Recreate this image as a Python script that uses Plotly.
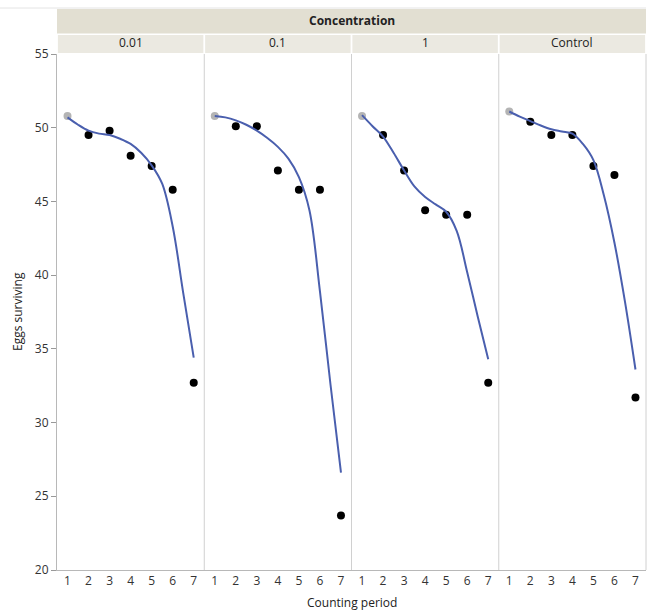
import plotly.graph_objects as go
from plotly.subplots import make_subplots

periods = [1, 2, 3, 4, 5, 6, 7]
concentrations = ["0.01", "0.1", "1", "Control"]

# observed eggs surviving per counting period
eggs_001 = [50.8, 49.5, 49.8, 48.1, 47.4, 45.8, 32.7]
eggs_01 = [50.8, 50.1, 50.1, 47.1, 45.8, 45.8, 23.7]
eggs_1 = [50.8, 49.5, 47.1, 44.4, 44.1, 44.1, 32.7]
eggs_ctrl = [51.1, 50.4, 49.5, 49.5, 47.4, 46.8, 31.7]

# smoothing-curve values at every half period
fit_x = [1, 1.5, 2, 2.5, 3, 3.5, 4, 4.5, 5, 5.5, 6, 6.5, 7]
fit_001 = [50.7, 50.2, 49.8, 49.6, 49.5, 49.25, 48.9, 48.3, 47.45, 46.2, 43.3, 38.8, 34.4]
fit_01 = [50.8, 50.7, 50.5, 50.2, 49.8, 49.3, 48.7, 47.9, 46.65, 44.4, 38.9, 32.6, 26.6]
fit_1 = [50.85, 50.1, 49.4, 48.3, 47.1, 46.0, 45.3, 44.8, 44.3, 43.0, 40.2, 37.2, 34.3]
fit_ctrl = [51.1, 50.75, 50.45, 50.15, 49.9, 49.75, 49.6, 48.9, 47.8, 45.4, 42.2, 38.2, 33.6]

observed = [eggs_001, eggs_01, eggs_1, eggs_ctrl]
fits = [fit_001, fit_01, fit_1, fit_ctrl]

y_ticks = [20, 25, 30, 35, 40, 45, 50, 55]

W, H = 647, 613
L, R, T, B = 57, 1, 54, 43
plot_h = H - T - B
plot_w = W - L - R


def py(pix):
    return (H - B - pix) / plot_h


def px(pix):
    return (pix - L) / plot_w


fig = make_subplots(rows=1, cols=4, shared_yaxes=True, horizontal_spacing=0)

font_fam = "Open Sans, Noto Sans, sans-serif"

for i, (obs, fit) in enumerate(zip(observed, fits)):
    col = i + 1
    fig.add_trace(go.Scatter(
        x=periods, y=obs, mode="markers",
        marker=dict(size=8, color=["#b4b4b4"] + ["#000000"] * 6, line=dict(width=0)),
        showlegend=False, hoverinfo="x+y"), row=1, col=col)
    fig.add_trace(go.Scatter(
        x=fit_x, y=fit, mode="lines",
        line=dict(color="#4a5fae", width=2, shape="spline", smoothing=1.0),
        showlegend=False, hoverinfo="skip"), row=1, col=col)
    fig.update_xaxes(
        range=[0.5, 7.5], tickvals=periods, ticktext=[str(p) for p in periods],
        showgrid=False, zeroline=False, showline=True, linecolor="#b8b8b8", linewidth=1,
        ticks="", tickfont=dict(size=12, color="#333333", family=font_fam),
        fixedrange=True, row=1, col=col)

fig.update_yaxes(
    range=[20, 55], tickvals=y_ticks, showgrid=False, zeroline=False,
    showline=True, linecolor="#b8b8b8", linewidth=1, ticks="outside", ticklen=5,
    tickcolor="#999999", tickfont=dict(size=12, color="#333333", family=font_fam),
    row=1, col=1)
for c in (2, 3, 4):
    fig.update_yaxes(showline=False, row=1, col=c)

shapes = []
# panel dividers and right border
for k in range(1, 5):
    xk = k / 4
    shapes.append(dict(type="line", xref="paper", yref="paper", x0=xk, x1=xk, y0=0, y1=1,
                       line=dict(color="#d0d0d0", width=1)))
# header strips
shapes.append(dict(type="rect", xref="paper", yref="paper", x0=0, x1=1,
                   y0=py(33.5), y1=py(9), fillcolor="#e2dfd2", line=dict(width=0), layer="below"))
for k in range(4):
    shapes.append(dict(type="rect", xref="paper", yref="paper", x0=k / 4 + 0.0015, x1=(k + 1) / 4 - 0.0015,
                       y0=py(53), y1=py(35), fillcolor="#ebe9e1", line=dict(width=0), layer="below"))
# faint window line at top
shapes.append(dict(type="line", xref="paper", yref="paper", x0=px(0), x1=1, y0=py(8), y1=py(8),
                   line=dict(color="#e4e4e4", width=1)))

txt = dict(size=12, color="#222222", family=font_fam)
annotations = [
    dict(text="<b>Concentration</b>", x=0.5, y=py(20), xref="paper", yref="paper",
         xanchor="center", yanchor="middle", showarrow=False, font=txt),
]
for k, c in enumerate(concentrations):
    annotations.append(dict(text=c, x=(k + 0.5) / 4, y=py(43), xref="paper", yref="paper",
                            xanchor="center", yanchor="middle", showarrow=False, font=txt))
annotations.append(dict(text="Counting period", x=0.5, y=py(602), xref="paper", yref="paper",
                        xanchor="center", yanchor="middle", showarrow=False, font=txt))
annotations.append(dict(text="Eggs surviving", x=px(17), y=py(312),
                        xref="paper", yref="paper", textangle=-90, showarrow=False,
                        xanchor="center", yanchor="middle", font=txt))

fig.update_layout(
    width=W, height=H, margin=dict(l=L, r=R, t=T, b=B),
    plot_bgcolor="white", paper_bgcolor="white",
    shapes=shapes, annotations=annotations, showlegend=False,
)

fig.write_html("out.html")
